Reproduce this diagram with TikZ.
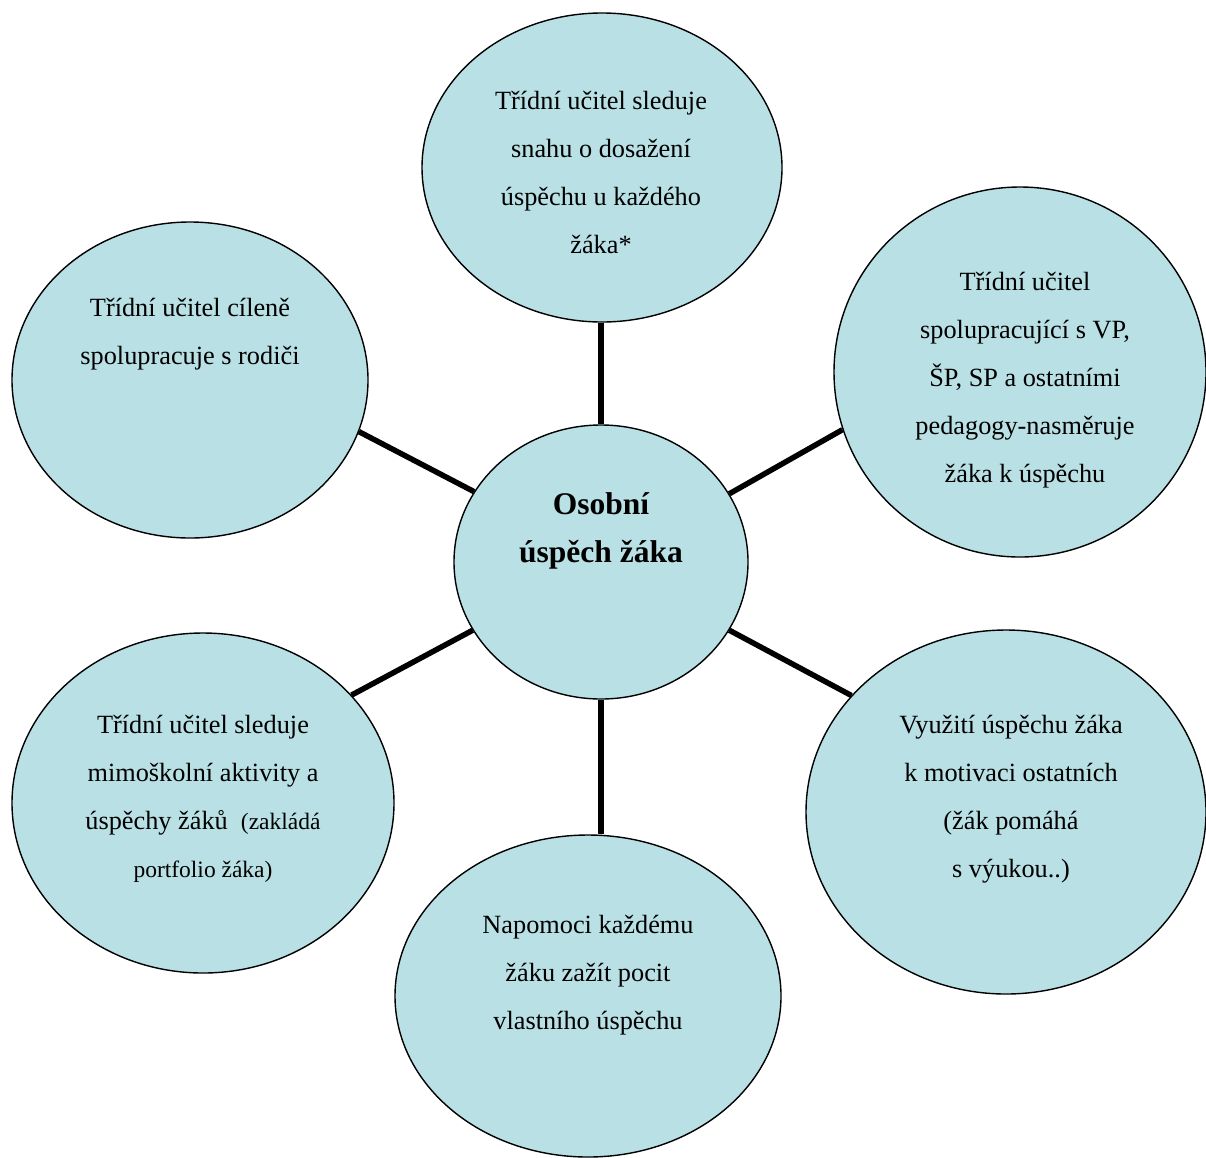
\documentclass[tikz,border=0pt]{standalone}
\usepackage{fontspec}
\setmainfont{Liberation Serif}
\usetikzlibrary{shapes.geometric,backgrounds}
\definecolor{bubble}{RGB}{185,224,228}
\tikzset{
 bub/.style={ellipse, draw=black, line width=1.4pt, fill=bubble, inner sep=0pt},
 txt/.style={align=center, font=\fontsize{26.3}{48}\selectfont, text=black, inner sep=0pt},
 ctxt/.style={align=center, font=\fontsize{31.5}{48}\selectfont\bfseries, text=black, inner sep=0pt},
 link/.style={line width=5.5pt, draw=black},
}
\newcommand{\smalltxt}{\fontsize{23.5}{48}\selectfont}
\begin{document}
\begin{tikzpicture}[x=1pt,y=-1pt]
\useasboundingbox (0,0) rectangle (1206,1157);
% bubbles
\node[bub, minimum width=294pt, minimum height=274pt] (c) at (601,562) {};
\node[bub, minimum width=360pt, minimum height=309pt] (top) at (602,167.5) {};
\node[bub, minimum width=372pt, minimum height=370pt] (rt) at (1020,372) {};
\node[bub, minimum width=400pt, minimum height=364pt] (rb) at (1006,812) {};
\node[bub, minimum width=356pt, minimum height=316pt] (lt) at (190,380) {};
\node[bub, minimum width=382pt, minimum height=340pt] (lb) at (203,803) {};
\node[bub, minimum width=386pt, minimum height=322pt] (bot) at (588,996) {};
% connectors
\begin{pgfonlayer}{background}
\draw[link] (c.north) -- (c.north |- top.south);
\draw[link] (c.south) -- (c.south |- bot.north);
\draw[link] (c.28) -- (rt.198);
\draw[link] (c.-28) -- (rb.143);
\draw[link] (c.151) -- (lt.-17);
\draw[link] (c.208) -- (lb.36);
\end{pgfonlayer}
% texts
\node[ctxt] (tc) at (601,531) {Osobní\\úspěch žáka};
\node[txt] (ttop) at (601,172) {Třídní učitel sleduje\\snahu o dosažení\\úspěchu u každého\\žáka*};
\node[txt] (tlt) at (190,334) {Třídní učitel cíleně\\spolupracuje s rodiči};
\node[txt] (trt) at (1025,380) {Třídní učitel\\spolupracující s VP,\\ŠP, SP a ostatními\\pedagogy-nasměruje\\žáka k úspěchu};
\node[txt] (tlb) at (203,799) {Třídní učitel sleduje\\mimoškolní aktivity a\\úspěchy žáků\ \ {\smalltxt(zakládá}\\{\smalltxt portfolio žáka)}};
\node[txt] (tbot) at (588,975) {Napomoci každému\\žáku zažít pocit\\vlastního úspěchu};
\node[txt] (trb) at (1011,799) {Využití úspěchu žáka\\k motivaci ostatních\\(žák pomáhá\\s výukou..)};
\end{tikzpicture}
\end{document}
